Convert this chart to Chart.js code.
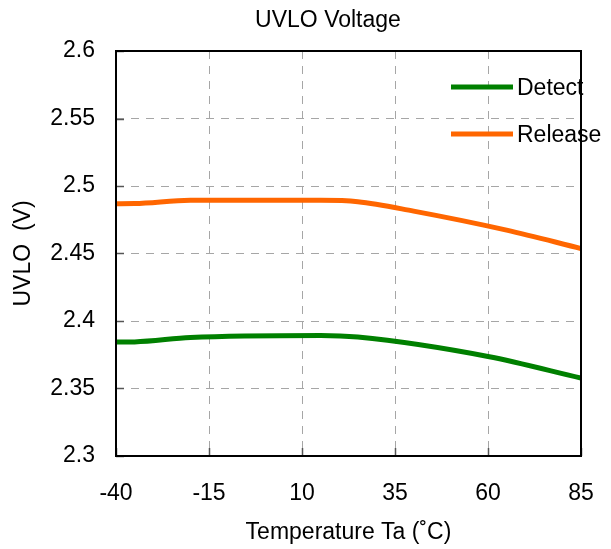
<!DOCTYPE html>
<html>
<head>
<meta charset="utf-8">
<script src="https://cdn.jsdelivr.net/npm/chart.js@4"></script>
<style>
  body { margin: 0; background: #fff; }
  #wrap { width: 611px; height: 549px; }
</style>
</head>
<body>
<div id="wrap"><canvas id="uvloChart" width="611" height="549"></canvas></div>
<script>
// values
const chartTitle = 'UVLO Voltage';
const xTicks = [-40, -15, 10, 35, 60, 85];
const yTicks = [2.3, 2.35, 2.4, 2.45, 2.5, 2.55, 2.6];

const detectTemps = [-40, -35, -20, 15, 25, 60, 85];
const detectVolts = [2.3844, 2.3845, 2.3878, 2.3893, 2.3881, 2.3737, 2.3577];

const releaseTemps = [-40, -35, -20, 15, 25, 40, 65, 85];
const releaseVolts = [2.4869, 2.4870, 2.4894, 2.4894, 2.4884, 2.4814, 2.4673, 2.4537];

const FONT = 'Liberation Sans, Arial, sans-serif';
const FONT_SIZE = 23;

const toPoints = (xs, ys) => xs.map((x, i) => ({ x: x, y: ys[i] }));

// title, plot frame, inner tick marks and the legend that sits inside the plot
const framePlugin = {
    id: 'frame',
    afterDatasetsDraw(chart) {
        const { ctx, chartArea: a, scales } = chart;
        ctx.save();
        ctx.setLineDash([]);

        // inner tick marks
        ctx.strokeStyle = '#555';
        ctx.lineWidth = 1.5;
        yTicks.forEach(v => {
            const y = Math.round(scales.y.getPixelForValue(v)) + 0.5;
            ctx.beginPath();
            ctx.moveTo(a.left, y);
            ctx.lineTo(a.left + 8, y);
            ctx.stroke();
        });
        xTicks.forEach(v => {
            const x = Math.round(scales.x.getPixelForValue(v)) + 0.5;
            ctx.beginPath();
            ctx.moveTo(x, a.bottom);
            ctx.lineTo(x, a.bottom - 8);
            ctx.stroke();
        });

        // frame
        ctx.strokeStyle = '#000';
        ctx.lineWidth = 2;
        ctx.strokeRect(a.left, a.top, a.right - a.left, a.bottom - a.top);

        // title
        ctx.fillStyle = '#000';
        ctx.font = FONT_SIZE + 'px ' + FONT;
        ctx.textAlign = 'center';
        ctx.textBaseline = 'middle';
        ctx.fillText(chartTitle, 328, 21);

        // legend
        ctx.textAlign = 'left';
        const rows = [87, 134];
        chart.data.datasets.forEach((ds, i) => {
            ctx.strokeStyle = ds.borderColor;
            ctx.lineWidth = 5;
            ctx.beginPath();
            ctx.moveTo(451, rows[i]);
            ctx.lineTo(513, rows[i]);
            ctx.stroke();
            ctx.fillStyle = '#000';
            ctx.fillText(ds.label, 517, rows[i] + 2);
        });
        ctx.restore();
    }
};

const ctx = document.getElementById('uvloChart').getContext('2d');
const uvloChart = new Chart(ctx, {
    type: 'line',
    data: {
        datasets: [{
            label: 'Detect',
            data: toPoints(detectTemps, detectVolts),
            borderColor: '#008000',
            borderWidth: 5,
            pointRadius: 0,
            cubicInterpolationMode: 'monotone',
            fill: false
        }, {
            label: 'Release',
            data: toPoints(releaseTemps, releaseVolts),
            borderColor: '#ff6600',
            borderWidth: 5,
            pointRadius: 0,
            cubicInterpolationMode: 'monotone',
            fill: false
        }]
    },
    options: {
        responsive: false,
        animation: false,
        layout: {
            padding: { top: 51, right: 30, left: 0, bottom: 0 }
        },
        plugins: {
            legend: { display: false },
            title: { display: false },
            tooltip: { enabled: false }
        },
        scales: {
            x: {
                type: 'linear',
                min: -40,
                max: 85,
                afterBuildTicks: scale => { scale.ticks = xTicks.map(v => ({ value: v })); },
                afterFit: scale => {
                    scale.height = 93;
                    scale.paddingLeft = 0;
                    scale.paddingRight = 0;
                },
                grid: { color: '#a6a6a6', lineWidth: 1, drawTicks: false },
                border: { display: false, dash: [8, 7] },
                ticks: {
                    color: '#000',
                    padding: 24,
                    font: { family: FONT, size: FONT_SIZE }
                },
                title: {
                    display: true,
                    text: 'Temperature Ta (˚C)',
                    color: '#000',
                    padding: 3,
                    font: { family: FONT, size: FONT_SIZE }
                }
            },
            y: {
                min: 2.3,
                max: 2.6,
                afterBuildTicks: scale => { scale.ticks = yTicks.map(v => ({ value: v })); },
                afterFit: scale => {
                    scale.width = 116;
                    scale.paddingTop = 0;
                    scale.paddingBottom = 0;
                },
                grid: { color: '#a6a6a6', lineWidth: 1, drawTicks: false },
                border: { display: false, dash: [8, 7] },
                ticks: {
                    color: '#000',
                    padding: 21,
                    font: { family: FONT, size: FONT_SIZE },
                    callback: v => String(Math.round(v * 100) / 100)
                },
                title: {
                    display: true,
                    text: 'UVLO  (V)',
                    color: '#000',
                    padding: 10,
                    font: { family: FONT, size: FONT_SIZE }
                }
            }
        }
    },
    plugins: [framePlugin]
});
</script>
</body>
</html>
